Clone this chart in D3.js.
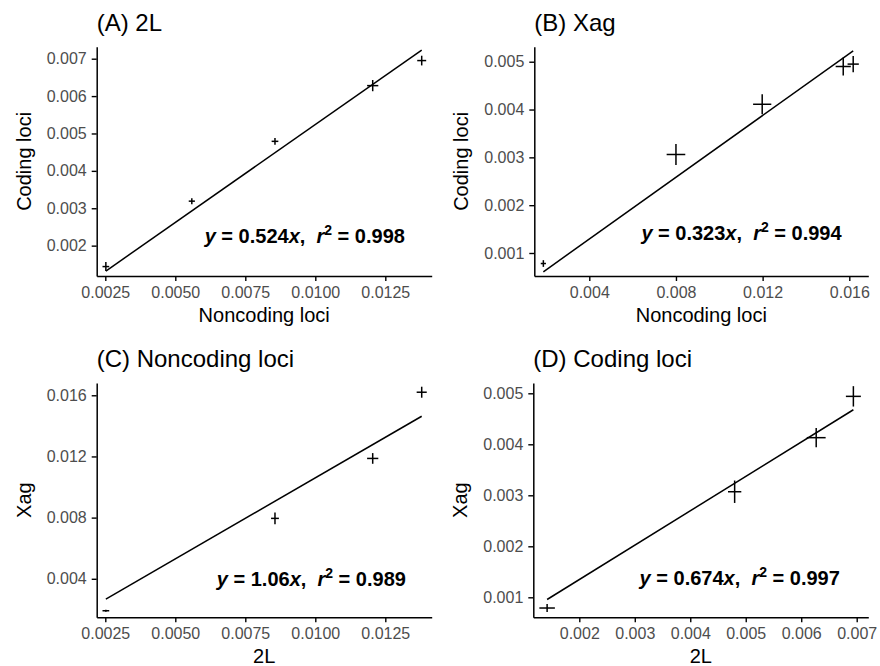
<!DOCTYPE html>
<html>
<head>
<meta charset="utf-8">
<script src="https://cdn.jsdelivr.net/npm/d3@7"></script>
<style>
  html, body { margin: 0; padding: 0; background: #ffffff; }
  svg { display: block; }
  text { font-family: "Liberation Sans", Arial, Helvetica, sans-serif; }
</style>
</head>
<body>
<script>
// ---------------- data ----------------
const panelTitles = ["(A) 2L", "(B) Xag", "(C) Noncoding loci", "(D) Coding loci"];
const xTitles = ["Noncoding loci", "Noncoding loci", "2L", "2L"];
const yTitles = ["Coding loci", "Coding loci", "Xag", "Xag"];
const slopes = [0.524, 0.323, 1.06, 0.674];
const slopeLabels = ["0.524", "0.323", "1.06", "0.674"];
const r2Labels = ["0.998", "0.994", "0.989", "0.997"];

// Panel A: 2L, noncoding (x) vs coding (y)
const aX = [0.00252, 0.00559, 0.00856, 0.01205, 0.0138];
const aY = [0.00144, 0.00319, 0.00479, 0.00628, 0.00695];
const aXErr = [0.00012, 0.00011, 0.00012, 0.00020, 0.00016];
const aYErr = [0.00012, 0.00008, 0.00009, 0.00015, 0.00013];

// Panel B: Xag, noncoding (x) vs coding (y)
const bX = [0.00188, 0.00800, 0.01198, 0.01572, 0.01618];
const bY = [0.00078, 0.00306, 0.00411, 0.00490, 0.00495];
const bXErr = [0.00012, 0.00043, 0.00042, 0.00035, 0.00026];
const bYErr = [0.00007, 0.00022, 0.00021, 0.00019, 0.00017];

// Panel C: noncoding loci, 2L (x) vs Xag (y)
const cX = [0.00252, 0.00856, 0.01205, 0.0138];
const cY = [0.00191, 0.00795, 0.01187, 0.0162];
const cXErr = [0.00012, 0.00014, 0.00020, 0.00018];
const cYErr = [0.00007, 0.00039, 0.00035, 0.00036];

// Panel D: coding loci, 2L (x) vs Xag (y)
const dX = [0.00142, 0.00480, 0.00627, 0.00694];
const dY = [0.00079, 0.00307, 0.00413, 0.00494];
const dXErr = [0.00014, 0.00012, 0.00017, 0.000135];
const dYErr = [0.00008, 0.00022, 0.00019, 0.00020];

// tick values and labels
const xTickValsA = [0.0025, 0.005, 0.0075, 0.01, 0.0125];
const xTickLabsA = ["0.0025", "0.0050", "0.0075", "0.0100", "0.0125"];
const yTickValsA = [0.002, 0.003, 0.004, 0.005, 0.006, 0.007];
const yTickLabsA = ["0.002", "0.003", "0.004", "0.005", "0.006", "0.007"];
const xTickValsB = [0.004, 0.008, 0.012, 0.016];
const xTickLabsB = ["0.004", "0.008", "0.012", "0.016"];
const yTickValsB = [0.001, 0.002, 0.003, 0.004, 0.005];
const yTickLabsB = ["0.001", "0.002", "0.003", "0.004", "0.005"];
const xTickValsC = [0.0025, 0.005, 0.0075, 0.01, 0.0125];
const xTickLabsC = ["0.0025", "0.0050", "0.0075", "0.0100", "0.0125"];
const yTickValsC = [0.004, 0.008, 0.012, 0.016];
const yTickLabsC = ["0.004", "0.008", "0.012", "0.016"];
const xTickValsD = [0.002, 0.003, 0.004, 0.005, 0.006, 0.007];
const xTickLabsD = ["0.002", "0.003", "0.004", "0.005", "0.006", "0.007"];
const yTickValsD = [0.001, 0.002, 0.003, 0.004, 0.005];
const yTickLabsD = ["0.001", "0.002", "0.003", "0.004", "0.005"];

// axis domains (visible ranges)
const xDomains = [[0.002193, 0.014157], [0.001462, 0.016877], [0.002193, 0.014157], [0.001171, 0.007209]];
const yDomains = [[0.001188, 0.007321], [0.000519, 0.005314], [0.001481, 0.016803], [0.000608, 0.005202]];

// ---------------- layout ----------------
const W = 880, H = 666;
const rects = [
  {l: 96.7, r: 431.7, t: 46.7, b: 276},
  {l: 534.3, r: 868.3, t: 46.7, b: 276},
  {l: 96.7, r: 431.7, t: 383, b: 617.3},
  {l: 533.3, r: 868.3, t: 383, b: 617.3}
];
const annoPos = [ {fx: 0.92, fy: 0.857}, {fx: 0.92, fy: 0.843}, {fx: 0.923, fy: 0.867}, {fx: 0.915, fy: 0.861} ];

const panels = [
  {x: aX, y: aY, xe: aXErr, ye: aYErr, xt: xTickValsA, xl: xTickLabsA, yt: yTickValsA, yl: yTickLabsA},
  {x: bX, y: bY, xe: bXErr, ye: bYErr, xt: xTickValsB, xl: xTickLabsB, yt: yTickValsB, yl: yTickLabsB},
  {x: cX, y: cY, xe: cXErr, ye: cYErr, xt: xTickValsC, xl: xTickLabsC, yt: yTickValsC, yl: yTickLabsC},
  {x: dX, y: dY, xe: dXErr, ye: dYErr, xt: xTickValsD, xl: xTickLabsD, yt: yTickValsD, yl: yTickLabsD}
];

const svg = d3.select("body").append("svg").attr("width", W).attr("height", H);
svg.append("rect").attr("width", W).attr("height", H).attr("fill", "#fff");

panels.forEach((p, i) => {
  const R = rects[i];
  const xs = d3.scaleLinear().domain(xDomains[i]).range([R.l, R.r]);
  const ys = d3.scaleLinear().domain(yDomains[i]).range([R.b, R.t]);
  const g = svg.append("g");

  // axes
  const xAxis = d3.axisBottom(xs).tickValues(p.xt).tickFormat((d, k) => p.xl[k])
    .tickSize(5).tickSizeOuter(0).tickPadding(5.3);
  const yAxis = d3.axisLeft(ys).tickValues(p.yt).tickFormat((d, k) => p.yl[k])
    .tickSize(5).tickSizeOuter(0).tickPadding(5);
  const gx = g.append("g").attr("transform", `translate(0,${R.b})`).call(xAxis);
  const gy = g.append("g").attr("transform", `translate(${R.l},0)`).call(yAxis);
  [gx, gy].forEach(a => {
    a.select(".domain").attr("stroke", "#000").attr("stroke-width", 1.5);
    a.selectAll(".tick line").attr("stroke", "#000").attr("stroke-width", 1.4);
    a.selectAll(".tick text").attr("fill", "#4D4D4D").attr("font-size", 16)
      .attr("font-family", '"Liberation Sans", Arial, sans-serif');
  });

  // regression line through origin across data range
  const xmin = d3.min(p.x), xmax = d3.max(p.x);
  g.append("line")
    .attr("x1", xs(xmin)).attr("y1", ys(slopes[i] * xmin))
    .attr("x2", xs(xmax)).attr("y2", ys(slopes[i] * xmax))
    .attr("stroke", "#000").attr("stroke-width", 1.5);

  // error crosses
  const idx = d3.range(p.x.length);
  g.selectAll(".eh").data(idx).enter().append("line")
    .attr("x1", k => xs(p.x[k] - p.xe[k])).attr("x2", k => xs(p.x[k] + p.xe[k]))
    .attr("y1", k => ys(p.y[k])).attr("y2", k => ys(p.y[k]))
    .attr("stroke", "#000").attr("stroke-width", 1.5);
  g.selectAll(".ev").data(idx).enter().append("line")
    .attr("x1", k => xs(p.x[k])).attr("x2", k => xs(p.x[k]))
    .attr("y1", k => ys(p.y[k] - p.ye[k])).attr("y2", k => ys(p.y[k] + p.ye[k]))
    .attr("stroke", "#000").attr("stroke-width", 1.5);

  // titles
  g.append("text").attr("x", R.l).attr("y", R.t - 16)
    .attr("font-size", 24).attr("fill", "#000").text(panelTitles[i]);
  g.append("text").attr("x", (R.l + R.r) / 2).attr("y", R.b + 45.7)
    .attr("text-anchor", "middle").attr("font-size", 20).attr("fill", "#000").text(xTitles[i]);
  g.append("text")
    .attr("transform", `translate(${R.l - 66},${(R.t + R.b) / 2}) rotate(-90)`)
    .attr("text-anchor", "middle").attr("font-size", 20).attr("fill", "#000").text(yTitles[i]);

  // annotation
  const ap = annoPos[i];
  const t = g.append("text")
    .attr("x", R.l + ap.fx * (R.r - R.l)).attr("y", R.t + ap.fy * (R.b - R.t))
    .attr("text-anchor", "end").attr("font-size", 20).attr("font-weight", "bold").attr("fill", "#000");
  t.append("tspan").attr("font-style", "italic").text("y");
  t.append("tspan").text(" = " + slopeLabels[i]);
  t.append("tspan").attr("font-style", "italic").text("x");
  t.append("tspan").text(",\u00a0\u00a0");
  t.append("tspan").attr("font-style", "italic").text("r");
  t.append("tspan").attr("font-size", 14).attr("dy", -8).text("2");
  t.append("tspan").attr("dy", 8).text(" = " + r2Labels[i]);
});
</script>
</body>
</html>
